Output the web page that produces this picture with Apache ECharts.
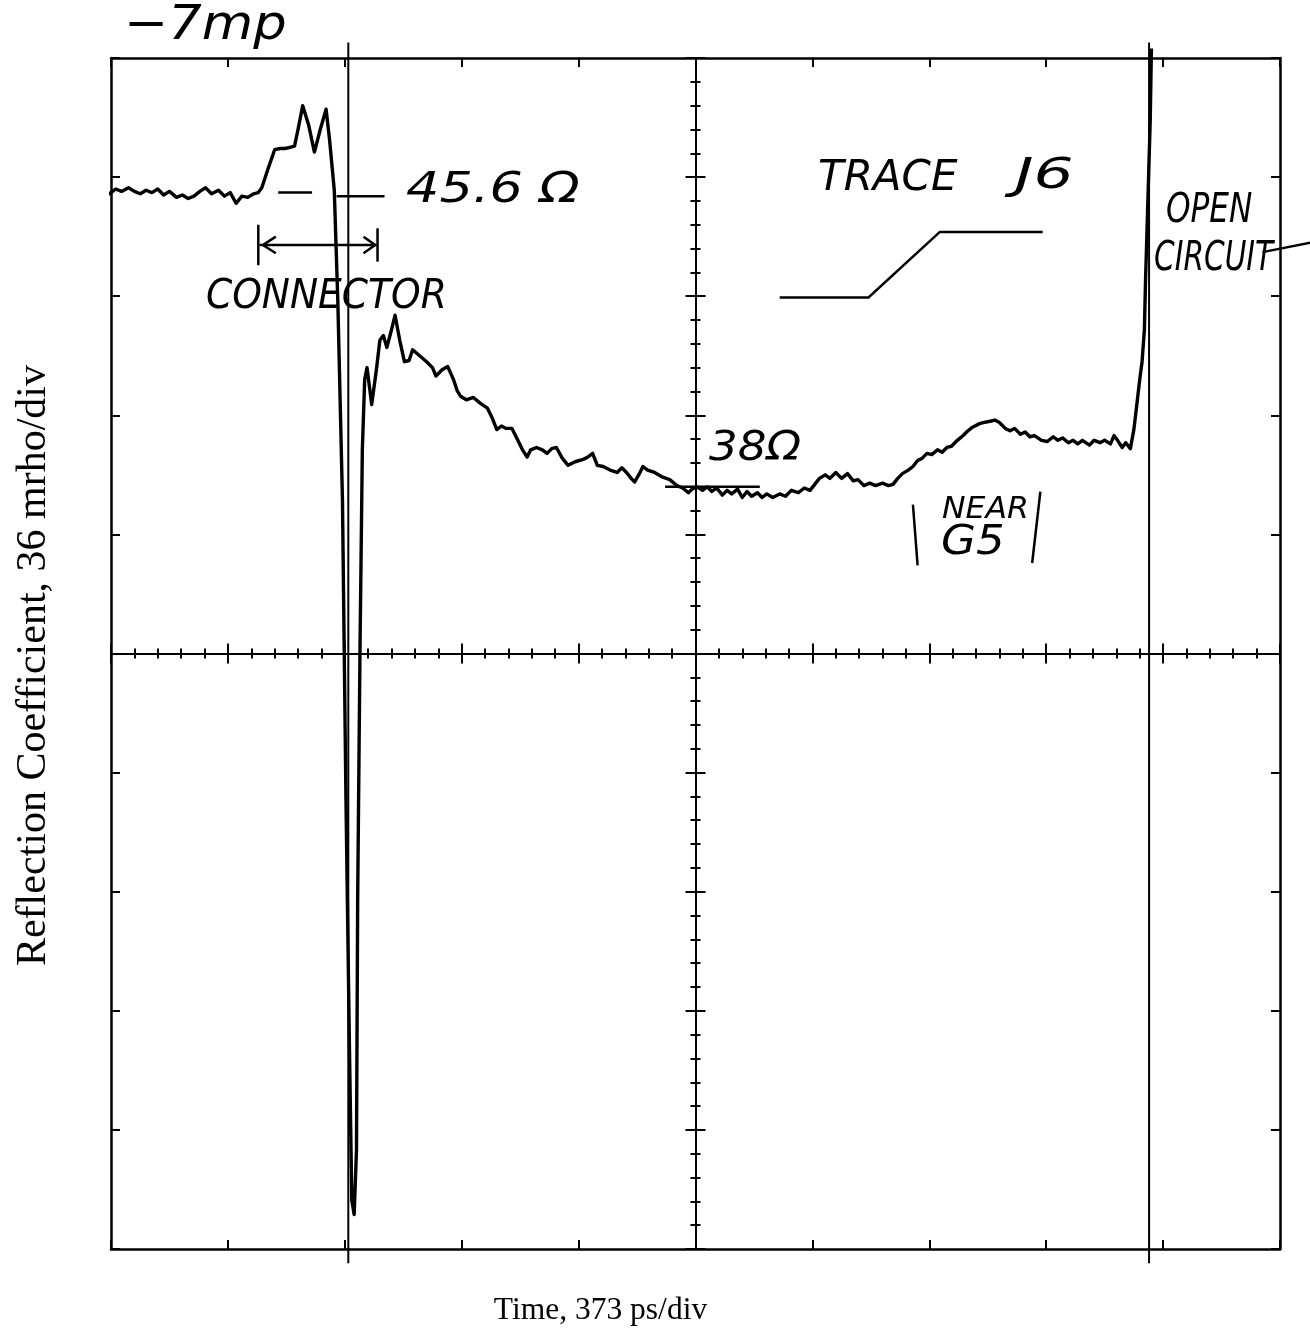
<!DOCTYPE html>
<html>
<head>
<meta charset="utf-8">
<script src="https://cdn.jsdelivr.net/npm/echarts@6/dist/echarts.min.js"></script>
<style>
html,body{margin:0;padding:0;background:#fff;}
#chart{width:1310px;height:1337px;}
</style>
</head>
<body>
<div id="chart"></div>
<script>
// ---- Data (time in divisions, reflection in divisions) ----
const traceTime = [
-0.11,-0.06,-0.01,0.04,0.09,0.15,0.20,0.25,0.30,0.35,0.40,0.45,0.50,0.56,0.61,0.66,0.71,0.76,0.81,0.86,0.92,0.97,1.02,1.07,1.12,1.17,1.22,1.26,
1.29,1.34,1.40,1.45,1.49,1.53,1.57,1.60,1.64,1.69,1.74,1.79,1.84,1.87,1.91,1.94,1.98,2.01,2.04,2.06,2.08,2.10,2.11,2.13,2.15,2.17,2.19,2.22,2.23,
2.27,2.30,2.33,2.36,2.40,2.43,2.47,2.51,2.55,2.58,2.64,2.70,2.75,2.78,2.83,2.88,2.93,2.96,2.99,3.04,3.10,3.16,3.22,3.26,3.30,3.34,3.38,3.43,3.48,
3.52,3.56,3.59,3.64,3.69,3.73,3.77,3.81,3.86,3.91,3.97,4.04,4.08,4.12,4.16,4.21,4.27,4.33,4.37,4.41,4.45,4.48,4.52,4.55,4.59,4.65,4.72,4.78,4.84,
4.89,4.94,4.97,5.01,5.06,5.10,5.14,5.18,5.23,5.27,5.31,5.36,5.40,5.44,5.48,5.53,5.57,5.61,5.66,5.72,5.77,5.82,5.88,5.93,5.98,6.02,6.06,6.11,6.15,
6.20,6.25,6.30,6.35,6.39,6.44,6.49,6.54,6.60,6.65,6.69,6.73,6.77,6.82,6.86,6.90,6.94,6.98,7.02,7.07,7.11,7.15,7.19,7.24,7.29,7.33,7.37,7.43,7.47,
7.52,7.56,7.60,7.65,7.69,7.73,7.78,7.82,7.86,7.90,7.96,8.01,8.06,8.10,8.14,8.19,8.23,8.27,8.31,8.37,8.41,8.46,8.50,8.55,8.58,8.61,8.65,8.68,8.72,
8.75,8.78,8.80,8.82,8.84,8.85,8.87,8.89,8.90
];
const traceRho = [
3.87,3.89,3.86,3.90,3.88,3.91,3.88,3.86,3.89,3.87,3.90,3.85,3.88,3.83,3.85,3.82,3.84,3.88,3.91,3.86,3.89,3.84,3.87,3.78,3.84,3.83,3.86,3.87,
3.91,4.06,4.23,4.24,4.24,4.25,4.26,4.40,4.60,4.44,4.21,4.40,4.57,4.31,3.89,2.97,1.29,-1.23,-3.33,-4.59,-4.71,-4.17,-2.07,0.03,1.71,2.30,2.40,2.17,2.09,
2.38,2.63,2.67,2.57,2.72,2.84,2.63,2.45,2.46,2.55,2.50,2.45,2.40,2.33,2.38,2.41,2.30,2.21,2.16,2.13,2.15,2.10,2.06,1.98,1.88,1.91,1.89,1.89,1.79,
1.71,1.65,1.71,1.73,1.71,1.68,1.72,1.73,1.64,1.58,1.61,1.63,1.65,1.68,1.58,1.57,1.54,1.52,1.56,1.52,1.47,1.44,1.51,1.57,1.54,1.52,1.48,1.46,1.41,
1.39,1.35,1.38,1.40,1.37,1.40,1.36,1.39,1.33,1.37,1.34,1.38,1.31,1.36,1.32,1.35,1.31,1.34,1.31,1.34,1.32,1.37,1.35,1.39,1.37,1.42,1.47,1.50,1.47,
1.52,1.47,1.51,1.45,1.46,1.41,1.43,1.41,1.43,1.41,1.42,1.47,1.51,1.54,1.57,1.62,1.64,1.68,1.67,1.71,1.69,1.73,1.74,1.79,1.83,1.87,1.90,1.93,1.94,
1.95,1.96,1.94,1.89,1.87,1.89,1.84,1.86,1.82,1.83,1.79,1.78,1.82,1.79,1.81,1.77,1.79,1.76,1.79,1.75,1.79,1.77,1.79,1.76,1.83,1.79,1.73,1.77,1.72,
1.88,2.13,2.30,2.45,2.72,3.14,3.81,4.48,5.08
];
// scope cursors (time positions) and their vertical extent
const cursorTimes = [2.03, 8.88];
const cursorSpan = [-5.12, 5.13];
// hand-drawn annotation strokes (data coordinates)
const leaderLines = [
  [[1.43,3.87],[1.72,3.87]],
  [[1.93,3.84],[2.34,3.84]],
  [[4.74,1.40],[5.55,1.40]]
];
const connectorArrow = [
  [[1.27,3.43],[2.27,3.43]],
  [[1.26,3.60],[1.26,3.26]],
  [[2.28,3.57],[2.28,3.29]],
  [[1.41,3.50],[1.30,3.43],[1.41,3.36]],
  [[2.16,3.50],[2.26,3.43],[2.16,3.36]]
];
const stepSketch = [[5.72,2.99],[6.48,2.99],[7.09,3.54],[7.97,3.54]];
const circuitStroke = [[9.85,3.37],[10.26,3.45]];
const nearBars = [
  [[6.86,1.25],[6.90,0.74]],
  [[7.95,1.36],[7.88,0.76]]
];
const xTitle = 'Time, 373 ps/div';
const yTitle = 'Reflection Coefficient, 36 mrho/div';

const traceData = traceTime.map((t, i) => [t, traceRho[i]]);
const strokes = [].concat(
  leaderLines, connectorArrow, [stepSketch], [circuitStroke], nearBars
).map(c => ({coords: c}));
const cursorStrokes = cursorTimes.map(t => ({coords: [[t, cursorSpan[0]], [t, cursorSpan[1]]]}));

const K = '#000';
function frameX(pos, extra) {
  return Object.assign({
    type: 'value', min: 0, max: 10, interval: 1, position: pos,
    axisLine: {onZero: false, lineStyle: {color: K, width: 2.5}},
    axisTick: {inside: true, length: 9, lineStyle: {color: K, width: 2}},
    axisLabel: {show: false}, splitLine: {show: false}
  }, extra || {});
}
function frameY(pos, extra) {
  return Object.assign({
    type: 'value', min: -5, max: 5, interval: 1, position: pos,
    axisLine: {onZero: false, lineStyle: {color: K, width: 2.5}},
    axisTick: {inside: true, length: 9, lineStyle: {color: K, width: 2}},
    axisLabel: {show: false}, splitLine: {show: false}
  }, extra || {});
}
function centerTicks(inside) {
  return {
    axisTick: {inside: inside, length: 10, lineStyle: {color: K, width: 2}},
    minorTick: {show: true, splitNumber: 5, length: 5, lineStyle: {color: K, width: 2}}
  };
}

const chart = echarts.init(document.getElementById('chart'), null, {renderer: 'canvas'});
function hand(text, left, top, size, sx) {
  return {type: 'text', left: left, top: top, scaleX: sx || 1,
    style: {text: text, fontFamily: 'DejaVu Sans', fontStyle: 'italic', fontSize: size, fill: K}};
}
chart.setOption({
  animation: false,
  backgroundColor: '#fff',
  grid: {left: 111, top: 58, width: 1169, height: 1191, containLabel: false},
  xAxis: [
    frameX('bottom', {
      name: xTitle, nameLocation: 'middle', nameGap: 46,
      nameTextStyle: {fontFamily: 'Liberation Serif', fontSize: 31.5, color: K, padding: [0, 190, 0, 0]}
    }),
    frameX('top'),
    Object.assign(frameX('bottom', centerTicks(true)), {axisLine: {onZero: true, onZeroAxisIndex: 0, lineStyle: {color: K, width: 2}}}),
    Object.assign(frameX('bottom', centerTicks(false)), {axisLine: {onZero: true, onZeroAxisIndex: 0, lineStyle: {color: K, width: 2}}})
  ],
  yAxis: [
    frameY('left', {
      name: yTitle, nameLocation: 'middle', nameGap: 56, nameRotate: 90,
      nameTextStyle: {fontFamily: 'Liberation Serif', fontSize: 42, color: K, padding: [0, 24, 0, 0]}
    }),
    frameY('right'),
    Object.assign(frameY('left', centerTicks(true)), {offset: -584.5, axisLine: {onZero: false, lineStyle: {color: K, width: 2}}}),
    Object.assign(frameY('left', centerTicks(false)), {offset: -584.5, axisLine: {onZero: false, lineStyle: {color: K, width: 2}}})
  ],
  series: [
    {
      name: 'cursors', type: 'lines', coordinateSystem: 'cartesian2d', polyline: true,
      xAxisIndex: 0, yAxisIndex: 0, clip: false, silent: true,
      lineStyle: {color: K, width: 2, opacity: 1}, data: cursorStrokes
    },
    {
      name: 'annotations', type: 'lines', coordinateSystem: 'cartesian2d', polyline: true,
      xAxisIndex: 0, yAxisIndex: 0, clip: false, silent: true,
      lineStyle: {color: K, width: 2.5, opacity: 1}, data: strokes
    },
    {
      name: 'Reflection', type: 'line', xAxisIndex: 0, yAxisIndex: 0,
      data: traceData, symbol: 'none', clip: false,
      lineStyle: {color: K, width: 3.4, join: 'round'}
    }
  ],
  graphic: [
    hand('−7mp', 124, 3, 48, 1.1),
    hand('45.6 Ω', 406, 170, 42, 1.25),
    hand('CONNECTOR', 206, 278, 40, 0.94),
    hand('TRACE', 818, 158, 42, 1),
    hand('J6', 1015, 156, 42, 1.5),
    hand('OPEN', 1166, 192, 40, 0.78),
    hand('CIRCUIT', 1154, 240, 40, 0.74),
    hand('38Ω', 709, 430, 40, 1.13),
    hand('NEAR', 942, 495, 30, 1.05),
    hand('G5', 941, 523, 41, 1.1)
  ]
});
</script>
</body>
</html>
